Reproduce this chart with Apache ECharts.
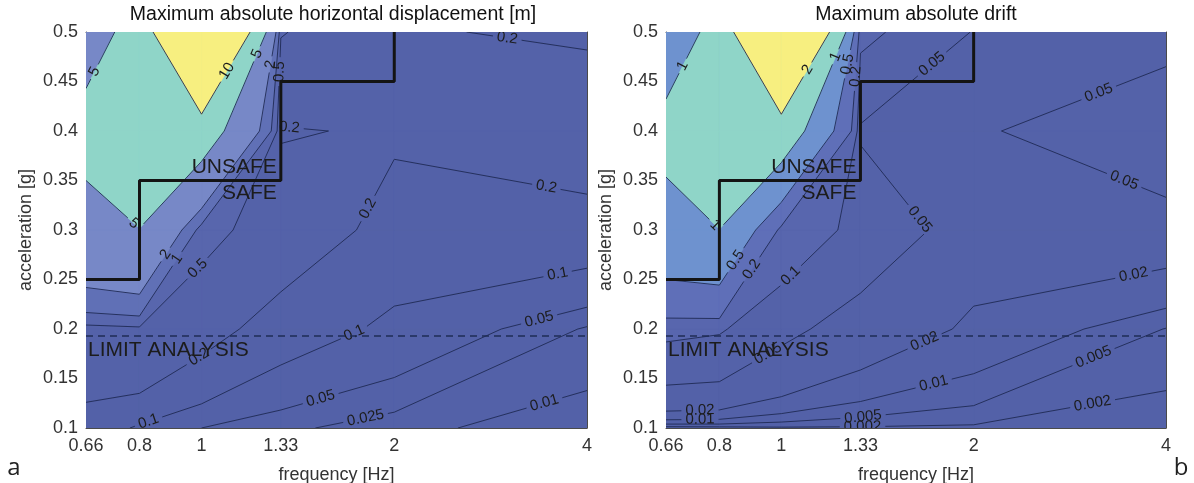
<!DOCTYPE html>
<html>
<head>
<meta charset="utf-8">
<title>Maximum absolute displacement and drift</title>
<script src="https://cdn.jsdelivr.net/npm/echarts@6.0.0/dist/echarts.min.js"></script>
<style>
  html, body { margin: 0; padding: 0; background: #ffffff; }
  #chart { width: 1194px; height: 483px; }
</style>
</head>
<body>
<div id="chart"></div>
<script>
// Excitation frequencies [Hz] (grid columns)
const frequencies = [0.66, 0.8, 1, 1.33, 2, 4];
const frequencyTickLabels = ['0.66', '0.8', '1', '1.33', '2', '4'];
// Peak ground accelerations [g] (grid rows, bottom to top)
const accelerations = [0.1, 0.2, 0.3, 0.4, 0.5];
const accelerationTicks = [0.1, 0.15, 0.2, 0.25, 0.3, 0.35, 0.4, 0.45, 0.5];

// Maximum absolute horizontal displacement [m]
const displacement = [
  [0.151, 0.089, 0.05, 0.03, 0.0136, 0.0027],
  [0.34, 0.406, 0.255, 0.14, 0.085, 0.022],
  [4.3, 4.95, 0.632, 0.3, 0.15, 0.149],
  [5.7, 8.0, 6.93, 0.1855, 0.22, 0.29],
  [4.07, 5.8, 25, 0.52, 0.212, 0.18]
];
const displacementLevels = [0.01, 0.025, 0.05, 0.1, 0.2, 0.5, 1, 2, 5, 10];

// Maximum absolute drift
const drift = [
  [0.0005, 0.0008, 0.0015, 0.0016, 0.0015, 0.0003],
  [0.115, 0.106, 0.06, 0.033, 0.017, 0.0048],
  [0.885, 0.995, 0.15, 0.08, 0.03, 0.0296],
  [1.1, 1.6, 1.4, 0.045, 0.043, 0.0914],
  [0.79, 1.12, 4.95, 0.115, 0.048, 0.0277]
];
const driftLevels = [0.002, 0.005, 0.01, 0.02, 0.05, 0.1, 0.2, 0.5, 1, 2];

// Safe / unsafe boundary
const boundaryFreq = [0.66, 0.8, 0.8, 1.33, 1.33, 2, 2];
const boundaryAcc = [0.25, 0.25, 0.35, 0.35, 0.45, 0.45, 0.5];
// Limit analysis acceleration [g]
const limitAnalysisAcc = 0.193;

// ---- styling ----
const FONT = '"Liberation Sans", Arial, Helvetica, sans-serif';
const LABEL_FONT = '15px ' + FONT;
const LINE_COLOR = '#1f2a55';
const displacementBands = ['#5361a8', '#5361a8', '#5361a8', '#5361a8', '#5361a8', '#5462a9',
  '#5866ad', '#6070b6', '#7788c7', '#8fd5c8', '#f7ef80'];
const driftBands = ['#5361a8', '#5361a8', '#5361a8', '#5361a8', '#5361a8', '#5462a9',
  '#5866ae', '#5f6fb8', '#6e92cf', '#8fd5c8', '#f7ef80'];

// contour label placement hints: [level, frequency, acceleration]
const displacementLabelSpots = [
  [5, 0.68, 0.46], [10, 1.10, 0.46], [5, 1.23, 0.477], [2, 1.29, 0.467], [0.5, 1.32, 0.46],
  [0.2, 1.37, 0.40], [0.2, 3.0, 0.492], [0.2, 1.84, 0.32], [0.2, 3.43, 0.332], [5, 0.78, 0.305],
  [2, 0.88, 0.275], [1, 0.91, 0.272], [0.5, 0.98, 0.263], [0.1, 3.6, 0.255], [0.05, 3.37, 0.209],
  [0.1, 1.75, 0.189], [0.2, 0.99, 0.172], [0.05, 1.53, 0.133], [0.025, 1.8, 0.113],
  [0.01, 3.43, 0.126], [0.1, 0.825, 0.108]
];
const driftLabelSpots = [
  [1, 0.746, 0.457], [2, 1.10, 0.462], [1, 1.226, 0.474], [0.5, 1.28, 0.467], [0.2, 1.31, 0.455],
  [1, 0.78, 0.302], [0.5, 0.855, 0.268], [0.2, 0.90, 0.26], [0.1, 1.03, 0.255], [0.05, 1.71, 0.47],
  [0.05, 3.15, 0.436], [0.05, 3.44, 0.35], [0.05, 1.68, 0.315], [0.05, 0.96, 0.172],
  [0.02, 3.57, 0.25], [0.02, 1.68, 0.186], [0.01, 1.73, 0.146], [0.005, 3.07, 0.174],
  [0.002, 3.06, 0.13], [0.02, 0.746, 0.118], [0.01, 0.746, 0.11], [0.005, 1.34, 0.116],
  [0.002, 1.34, 0.103]
];

const log10 = Math.log10;
const freqLog = frequencies.map(f => log10(f));
const measureCtx = document.createElement('canvas').getContext('2d');
function textWidth(txt, font) { measureCtx.font = font; return measureCtx.measureText(txt).width; }

// part of a cell polygon where the edge-interpolated value is >= L
function clipAbove(poly, L) {
  const out = [];
  for (let k = 0; k < poly.length; k++) {
    const A = poly[k], B = poly[(k + 1) % poly.length];
    const ain = A.v >= L, bin = B.v >= L;
    if (ain) out.push(A);
    if (ain !== bin) {
      const t = (L - A.v) / (B.v - A.v);
      out.push({ x: A.x + t * (B.x - A.x), y: A.y + t * (B.y - A.y), v: L });
    }
  }
  return out;
}

// marching squares segments in one cell (corners BL, BR, TR, TL)
function cellSegments(c, L) {
  const pts = [];
  for (let k = 0; k < 4; k++) {
    const A = c[k], B = c[(k + 1) % 4];
    if ((A.v < L) !== (B.v < L)) {
      const t = (L - A.v) / (B.v - A.v);
      pts.push({ x: A.x + t * (B.x - A.x), y: A.y + t * (B.y - A.y) });
    }
  }
  if (pts.length === 2) return [[pts[0], pts[1]]];
  if (pts.length === 4) {
    const center = (c[0].v + c[1].v + c[2].v + c[3].v) / 4;
    if ((center >= L) === (c[0].v >= L)) return [[pts[0], pts[1]], [pts[2], pts[3]]];
    return [[pts[3], pts[0]], [pts[1], pts[2]]];
  }
  return [];
}

// remove the part of segment s that lies inside a label box
function cutSegment(s, box) {
  const ca = Math.cos(box.ang), sa = Math.sin(box.ang);
  const loc = p => {
    const dx = p.x - box.cx, dy = p.y - box.cy;
    return [dx * ca - dy * sa, dx * sa + dy * ca];
  };
  const a = loc(s[0]), b = loc(s[1]);
  let t0 = 0, t1 = 1;
  const du = b[0] - a[0], dv = b[1] - a[1];
  const clips = [[-du, a[0] + box.hw], [du, box.hw - a[0]], [-dv, a[1] + box.hh], [dv, box.hh - a[1]]];
  for (const [p, q] of clips) {
    if (Math.abs(p) < 1e-12) { if (q < 0) return [s]; continue; }
    const r = q / p;
    if (p < 0) { if (r > t1) return [s]; if (r > t0) t0 = r; }
    else { if (r < t0) return [s]; if (r < t1) t1 = r; }
  }
  if (t0 >= t1) return [s];
  const at = t => ({ x: s[0].x + t * (s[1].x - s[0].x), y: s[0].y + t * (s[1].y - s[0].y) });
  const out = [];
  if (t0 > 1e-6) out.push([s[0], at(t0)]);
  if (t1 < 1 - 1e-6) out.push([at(t1), s[1]]);
  return out;
}

function contourRenderer(values, levels, bands, labelSpots) {
  return function (params, api) {
    const nR = accelerations.length, nC = frequencies.length;
    const P = accelerations.map((a, i) => frequencies.map((f, j) => {
      const c = api.coord([log10(f), a]);
      return { x: c[0], y: c[1], v: values[i][j] };
    }));
    const corners = (i, j) => [P[i][j], P[i][j + 1], P[i + 1][j + 1], P[i + 1][j]];
    const children = [];
    children.push({
      type: 'polygon',
      shape: { points: [P[0][0], P[0][nC - 1], P[nR - 1][nC - 1], P[nR - 1][0]].map(p => [p.x, p.y]) },
      style: { fill: bands[0] }
    });
    levels.forEach((L, m) => {
      const col = bands[m + 1];
      for (let i = 0; i < nR - 1; i++) {
        for (let j = 0; j < nC - 1; j++) {
          const poly = clipAbove(corners(i, j), L);
          if (poly.length >= 3) {
            children.push({
              type: 'polygon',
              shape: { points: poly.map(p => [p.x, p.y]) },
              style: { fill: col, stroke: col, lineWidth: 0.7 }
            });
          }
        }
      }
    });
    const segs = levels.map(L => {
      const s = [];
      for (let i = 0; i < nR - 1; i++) for (let j = 0; j < nC - 1; j++) s.push(...cellSegments(corners(i, j), L));
      return s;
    });
    // place labels on their contour
    const boxes = levels.map(() => []);
    const texts = [];
    labelSpots.forEach(([L, f, a]) => {
      const m = levels.indexOf(L);
      if (m < 0) return;
      const t = api.coord([log10(f), a]);
      let best = null, bd = Infinity, bs = null;
      segs[m].forEach(s => {
        const dx = s[1].x - s[0].x, dy = s[1].y - s[0].y;
        const len2 = dx * dx + dy * dy || 1e-9;
        let u = ((t[0] - s[0].x) * dx + (t[1] - s[0].y) * dy) / len2;
        u = Math.max(0, Math.min(1, u));
        const px = s[0].x + u * dx, py = s[0].y + u * dy;
        const d = Math.hypot(px - t[0], py - t[1]);
        if (d < bd) { bd = d; best = [px, py]; bs = s; }
      });
      if (!best || bd > 40) return;
      let ang = Math.atan2(-(bs[1].y - bs[0].y), bs[1].x - bs[0].x);
      if (ang > Math.PI / 2) ang -= Math.PI;
      if (ang <= -Math.PI / 2) ang += Math.PI;
      const label = String(L);
      boxes[m].push({ cx: best[0], cy: best[1], ang, hw: textWidth(label, LABEL_FONT) / 2 + 4, hh: 6 });
      texts.push({
        type: 'text', x: best[0], y: best[1], rotation: ang,
        style: { text: label, font: LABEL_FONT, fill: '#1c1c1c', align: 'center', verticalAlign: 'middle' }
      });
    });
    segs.forEach((list, m) => {
      let pieces = list;
      boxes[m].forEach(box => { pieces = pieces.flatMap(s => cutSegment(s, box)); });
      pieces.forEach(s => children.push({
        type: 'line',
        shape: { x1: s[0].x, y1: s[0].y, x2: s[1].x, y2: s[1].y },
        style: { stroke: LINE_COLOR, lineWidth: 0.9 }
      }));
    });
    children.push(...texts);
    return { type: 'group', children };
  };
}

// text annotations inside the plots: [text, frequency, acceleration, align, pixel offset]
const annotations = [
  ['UNSAFE', 1.33, 0.3636, 'right', -4],
  ['SAFE', 1.33, 0.337, 'right', -4],
  ['LIMIT ANALYSIS', 0.66, 0.179, 'left', 2]
];

function annotationRenderer(params, api) {
  return {
    type: 'group',
    children: annotations.map(([txt, f, a, align, dx]) => {
      const p = api.coord([log10(f), a]);
      return {
        type: 'text', x: p[0] + dx, y: p[1],
        style: { text: txt, font: '21px ' + FONT, fill: '#1c1c1c', align, verticalAlign: 'middle' }
      };
    })
  };
}

const axisLineStyle = { color: '#4a4a4a', width: 1 };
const tickFont = { color: '#333333', fontSize: 18, fontFamily: FONT };

function makeXAxes(gridIndex) {
  const common = {
    type: 'value', gridIndex, min: log10(0.66), max: log10(4),
    splitLine: { show: false },
    axisLine: { show: true, onZero: false, lineStyle: axisLineStyle },
    axisTick: { show: true, inside: true, length: 5, customValues: freqLog, lineStyle: axisLineStyle }
  };
  return [
    Object.assign({}, common, {
      position: 'bottom',
      axisLabel: {
        show: true, customValues: freqLog, margin: 9,
        formatter: v => {
          let k = 0;
          freqLog.forEach((fl, i) => { if (Math.abs(fl - v) < Math.abs(freqLog[k] - v)) k = i; });
          return frequencyTickLabels[k];
        },
        ...tickFont
      },
      name: 'frequency [Hz]', nameLocation: 'middle', nameGap: 38,
      nameTextStyle: tickFont
    }),
    Object.assign({}, common, { position: 'top', axisLabel: { show: false } })
  ];
}

function makeYAxes(gridIndex) {
  const common = {
    type: 'value', gridIndex, min: 0.1, max: 0.5, interval: 0.05,
    splitLine: { show: false },
    axisLine: { show: true, onZero: false, lineStyle: axisLineStyle },
    axisTick: { show: true, inside: true, length: 5, lineStyle: axisLineStyle }
  };
  return [
    Object.assign({}, common, {
      position: 'left',
      axisLabel: {
        show: true, margin: 8,
        formatter: v => {
          let k = 0;
          accelerationTicks.forEach((t, i) => { if (Math.abs(t - v) < Math.abs(accelerationTicks[k] - v)) k = i; });
          return String(accelerationTicks[k]);
        },
        ...tickFont
      },
      name: 'acceleration [g]', nameLocation: 'middle', nameGap: 51,
      nameTextStyle: tickFont
    }),
    Object.assign({}, common, { position: 'right', axisLabel: { show: false } })
  ];
}

const panels = [
  { values: displacement, levels: displacementLevels, bands: displacementBands, spots: displacementLabelSpots },
  { values: drift, levels: driftLevels, bands: driftBands, spots: driftLabelSpots }
];

const series = [];
panels.forEach((p, g) => {
  const xi = g * 2, yi = g * 2;
  series.push({
    type: 'custom', coordinateSystem: 'cartesian2d', xAxisIndex: xi, yAxisIndex: yi,
    data: [[freqLog[0], accelerations[0]]], silent: true, clip: true, z: 1,
    renderItem: contourRenderer(p.values, p.levels, p.bands, p.spots)
  });
  series.push({
    type: 'line', xAxisIndex: xi, yAxisIndex: yi, silent: true, z: 4,
    data: [[freqLog[0], limitAnalysisAcc], [freqLog[freqLog.length - 1], limitAnalysisAcc]],
    showSymbol: false, lineStyle: { color: '#1f2d55', width: 1.5, type: [7, 5] }
  });
  series.push({
    type: 'line', xAxisIndex: xi, yAxisIndex: yi, silent: true, z: 5,
    data: boundaryFreq.map((f, i) => [log10(f), boundaryAcc[i]]),
    showSymbol: false, lineStyle: { color: '#141414', width: 3 }
  });
  series.push({
    type: 'custom', coordinateSystem: 'cartesian2d', xAxisIndex: xi, yAxisIndex: yi,
    data: [[freqLog[0], accelerations[0]]], silent: true, z: 6,
    renderItem: annotationRenderer
  });
});

const chart = echarts.init(document.getElementById('chart'), null, { renderer: 'canvas' });
chart.setOption({
  animation: false,
  backgroundColor: '#ffffff',
  grid: [
    { left: 86, top: 32, width: 501, height: 396, containLabel: false, outerBoundsMode: 'none' },
    { left: 666, top: 32, width: 500, height: 396, containLabel: false, outerBoundsMode: 'none' }
  ],
  xAxis: [...makeXAxes(0), ...makeXAxes(1)],
  yAxis: [...makeYAxes(0), ...makeYAxes(1)],
  series,
  graphic: [
    { type: 'text', x: 333, y: 15, style: { text: 'Maximum absolute horizontal displacement [m]', font: '19.5px ' + FONT, fill: '#111', align: 'center', verticalAlign: 'middle' } },
    { type: 'text', x: 916, y: 15, style: { text: 'Maximum absolute drift', font: '19.5px ' + FONT, fill: '#111', align: 'center', verticalAlign: 'middle' } },
    { type: 'text', x: 14, y: 468, style: { text: 'a', font: '24px "Open Sans", ' + FONT, fill: '#222', align: 'center', verticalAlign: 'middle' } },
    { type: 'text', x: 1181, y: 468, style: { text: 'b', font: '24px "Open Sans", ' + FONT, fill: '#222', align: 'center', verticalAlign: 'middle' } }
  ]
});
</script>
</body>
</html>
